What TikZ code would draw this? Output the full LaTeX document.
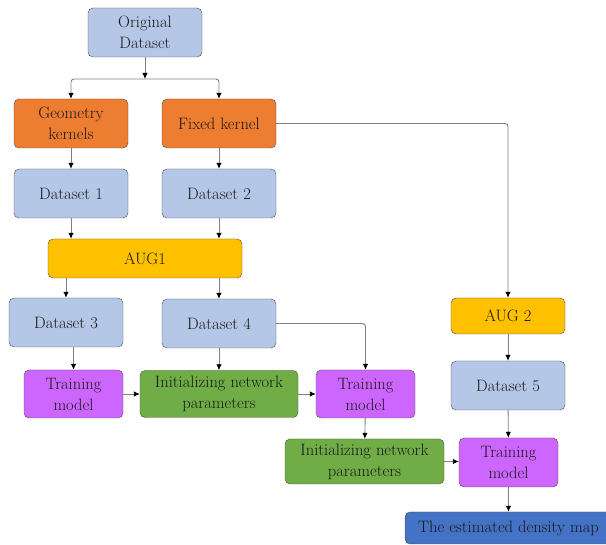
\documentclass[tikz,border=0pt]{standalone}
\usetikzlibrary{arrows.meta}
\definecolor{dsblue}{HTML}{B4C7E7}
\definecolor{kerorange}{HTML}{ED7D31}
\definecolor{augyellow}{HTML}{FFC000}
\definecolor{trpurple}{HTML}{CC66FF}
\definecolor{initgreen}{HTML}{70AD47}
\definecolor{mapblue}{HTML}{4472C4}
\definecolor{linegray}{HTML}{7F7F7F}

\begin{document}
\begin{tikzpicture}[x=1pt, y=-1pt,
  box/.style={draw=black!70, rounded corners=5pt, align=center, inner sep=2pt,
    font=\fontsize{16.5}{21}\selectfont, text=black!90},
  dsbox/.style={box, fill=dsblue, minimum width=114pt, minimum height=49pt},
  kerbox/.style={box, fill=kerorange, minimum width=114pt, minimum height=49pt},
  augbox/.style={box, fill=augyellow, minimum height=37pt},
  trbox/.style={box, fill=trpurple, minimum width=99pt, minimum height=48pt},
  initbox/.style={box, fill=initgreen, minimum width=158pt, minimum height=47pt},
  conn/.style={draw=linegray, line width=0.9pt, -{Latex[length=6pt,width=5.5pt,black]}, rounded corners=3pt}]

  \useasboundingbox (0,0) rectangle (606,545);

  % 元データと分岐
  \node [dsbox] (orig) at (145,32.5) {Original\\Dataset};
  \coordinate (split) at (145,79);
  \node [kerbox] (geo) at (71,123.5) {Geometry\\kernels};
  \node [kerbox] (fixed) at (219,123.5) {Fixed kernel};
  \draw [conn] (orig) -- (split);
  \draw [conn] (split) -| (geo);
  \draw [conn] (split) -| (fixed);

  % Dataset 1, 2
  \node [dsbox] (d1) at (71,193.5) {Dataset 1};
  \node [dsbox] (d2) at (219,193.5) {Dataset 2};
  \draw [conn] (geo) -- (d1);
  \draw [conn] (fixed) -- (d2);

  % AUG1
  \node [augbox, minimum width=194pt, minimum height=39pt] (aug1) at (145,258.5) {AUG1};
  \draw [conn] (d1) -- (d1 |- aug1.north);
  \draw [conn] (d2) -- (d2 |- aug1.north);

  % Dataset 3, 4
  \node [dsbox] (d3) at (66,322.5) {Dataset 3};
  \node [dsbox] (d4) at (219,323.5) {Dataset 4};
  \draw [conn] (aug1.south -| d3) -- (d3);
  \draw [conn] (aug1.south -| d4) -- (d4);

  % 学習の列
  \node [trbox] (tm1) at (73.5,394) {Training\\model};
  \node [initbox] (init1) at (219,394) {Initializing network\\parameters};
  \node [trbox] (tm2) at (365.5,394) {Training\\model};
  \draw [conn] (tm1 |- d3.south) -- (tm1);
  \draw [conn] (d4) -- (init1);
  \draw [conn] (d4.east) -| (tm2);
  \draw [conn] (tm1) -- (init1);
  \draw [conn] (init1) -- (tm2);

  % AUG 2 と Dataset 5
  \node [augbox, minimum width=114pt, minimum height=36pt] (aug2) at (508,316) {AUG 2};
  \node [dsbox] (d5) at (508,385.5) {Dataset 5};
  \draw [conn] (fixed.east) -| (aug2);
  \draw [conn] (aug2) -- (d5);

  % 最後の学習
  \node [initbox, minimum width=159pt, minimum height=45pt] (init2) at (364.5,461.5) {Initializing network\\parameters};
  \node [trbox, minimum height=49pt] (tm3) at (508.5,462.5) {Training\\model};
  \draw [conn] (tm2) -- (init2);
  \draw [conn] (init2.east) -- (init2.east -| tm3.west);
  \draw [conn] (d5) -- (tm3);

  % 密度マップ
  \node [box, fill=mapblue, minimum width=207pt, minimum height=32pt] (dmap) at (508.5,528) {The estimated density map};
  \draw [conn] (tm3) -- (dmap);

\end{tikzpicture}
\end{document}
